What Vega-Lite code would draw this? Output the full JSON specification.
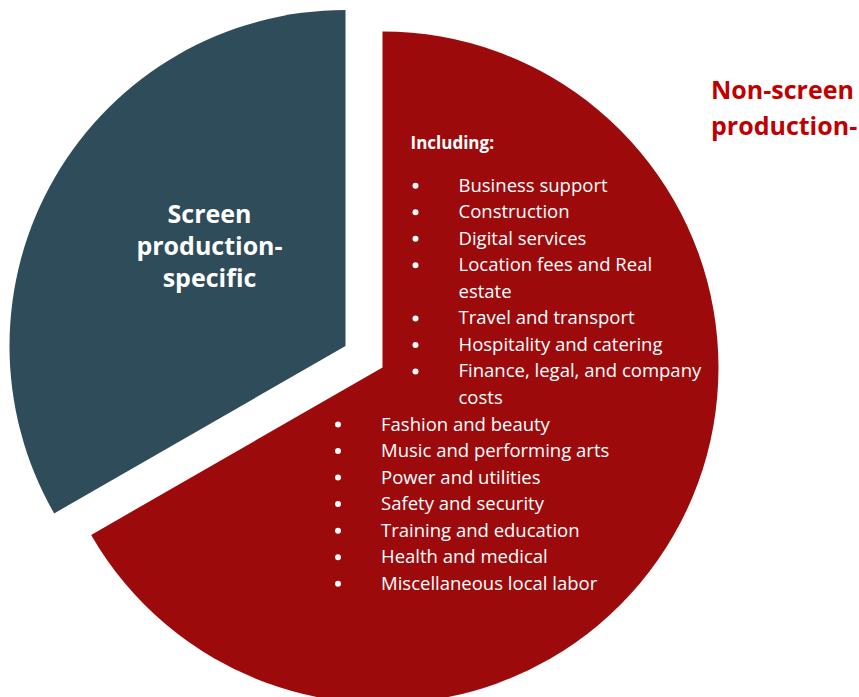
{
  "$schema": "https://vega.github.io/schema/vega-lite/v6.json",
  "width": 765,
  "height": 659,
  "autosize": {"type": "none"},
  "padding": {"left": 0, "top": 38, "right": 94, "bottom": 0},
  "background": "white",
  "config": {"view": {"stroke": null}, "font": "Open Sans"},
  "datasets": {
    "slices": [
      {"segment": "Non-screen production-specific", "share": 66.7, "order": 1, "label": "Non-screen\nproduction-"},
      {"segment": "Screen production-specific", "share": 33.3, "order": 2, "label": "Screen\nproduction-\nspecific"}
    ],
    "items": [
      {"item": "Business support", "line": 1, "level": 2, "bullet": true},
      {"item": "Construction", "line": 2, "level": 2, "bullet": true},
      {"item": "Digital services", "line": 3, "level": 2, "bullet": true},
      {"item": "Location fees and Real", "line": 4, "level": 2, "bullet": true},
      {"item": "estate", "line": 5, "level": 2, "bullet": false},
      {"item": "Travel and transport", "line": 6, "level": 2, "bullet": true},
      {"item": "Hospitality and catering", "line": 7, "level": 2, "bullet": true},
      {"item": "Finance, legal, and company", "line": 8, "level": 2, "bullet": true},
      {"item": "costs", "line": 9, "level": 2, "bullet": false},
      {"item": "Fashion and beauty", "line": 10, "level": 1, "bullet": true},
      {"item": "Music and performing arts", "line": 11, "level": 1, "bullet": true},
      {"item": "Power and utilities", "line": 12, "level": 1, "bullet": true},
      {"item": "Safety and security", "line": 13, "level": 1, "bullet": true},
      {"item": "Training and education", "line": 14, "level": 1, "bullet": true},
      {"item": "Health and medical", "line": 15, "level": 1, "bullet": true},
      {"item": "Miscellaneous local labor", "line": 16, "level": 1, "bullet": true}
    ]
  },
  "layer": [
    {
      "data": {"name": "slices"},
      "mark": {"type": "arc", "outerRadius": 336},
      "encoding": {
        "theta": {"field": "share", "type": "quantitative", "stack": true},
        "order": {"field": "order", "type": "quantitative"},
        "color": {"field": "segment", "type": "nominal", "legend": null,
          "scale": {"domain": ["Non-screen production-specific", "Screen production-specific"], "range": ["#9C0A0C", "#2F4C5B"]}},
        "opacity": {"condition": {"test": "datum.segment === 'Screen production-specific'", "value": 0}, "value": 1}
      }
    },
    {
      "data": {"name": "slices"},
      "mark": {"type": "arc", "outerRadius": 336, "xOffset": -37, "yOffset": -21.5},
      "encoding": {
        "theta": {"field": "share", "type": "quantitative", "stack": true},
        "order": {"field": "order", "type": "quantitative"},
        "color": {"field": "segment", "type": "nominal", "legend": null},
        "opacity": {"condition": {"test": "datum.segment === 'Screen production-specific'", "value": 1}, "value": 0}
      }
    },
    {
      "data": {"name": "slices"},
      "transform": [{"filter": "datum.segment === 'Screen production-specific'"}],
      "mark": {"type": "text", "lineBreak": "\n", "lineHeight": 32, "fontSize": 25, "fontWeight": "bold", "align": "center", "baseline": "middle", "color": "white", "dx": -173, "dy": -153},
      "encoding": {"text": {"field": "label", "type": "nominal"}}
    },
    {
      "data": {"name": "slices"},
      "transform": [{"filter": "datum.segment === 'Non-screen production-specific'"}],
      "mark": {"type": "text", "lineBreak": "\n", "lineHeight": 36, "fontSize": 25, "fontWeight": "bold", "align": "left", "baseline": "middle", "color": "#C00000", "dx": 328.5, "dy": -277},
      "encoding": {"text": {"field": "label", "type": "nominal"}}
    },
    {
      "data": {"values": [{"heading": "Including:", "line": 0, "level": 2}]},
      "mark": {"type": "text", "fontSize": 17, "fontWeight": "bold", "align": "left", "baseline": "middle", "color": "white", "dx": -48, "dy": -15.5},
      "encoding": {
        "x": {"field": "level", "type": "quantitative", "axis": null, "scale": {"domain": [1, 2], "range": [381, 458.5]}},
        "y": {"field": "line", "type": "quantitative", "axis": null, "scale": {"domain": [0, 16], "range": [121.2, 545.7]}},
        "text": {"field": "heading", "type": "nominal"}
      }
    },
    {
      "data": {"name": "items"},
      "transform": [{"filter": "datum.bullet"}],
      "mark": {"type": "circle", "size": 36, "opacity": 1, "color": "white", "xOffset": -43},
      "encoding": {
        "x": {"field": "level", "type": "quantitative", "axis": null},
        "y": {"field": "line", "type": "quantitative", "axis": null}
      }
    },
    {
      "data": {"name": "items"},
      "mark": {"type": "text", "fontSize": 18.5, "align": "left", "baseline": "middle", "color": "white"},
      "encoding": {
        "x": {"field": "level", "type": "quantitative", "axis": null},
        "y": {"field": "line", "type": "quantitative", "axis": null},
        "text": {"field": "item", "type": "nominal"}
      }
    }
  ]
}
